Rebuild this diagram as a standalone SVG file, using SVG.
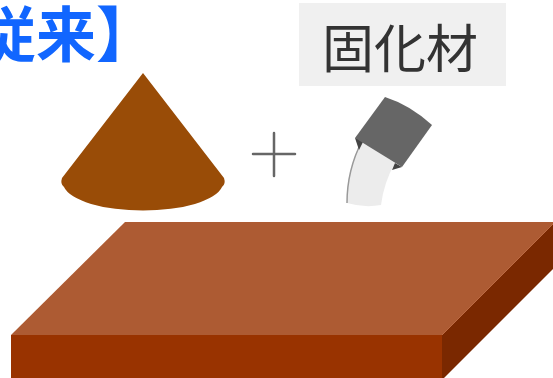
<svg xmlns="http://www.w3.org/2000/svg" width="553" height="378" viewBox="0 0 553 378">
  <style>
    .cjk { font-family: "Noto Sans CJK JP", "Noto Sans", sans-serif; }
    .title { font-size: 60px; font-weight: bold; fill: #1166FF; }
    .label { font-size: 52px; fill: #333333; }
    .plus { stroke: #666666; stroke-width: 2.5; stroke-linecap: round; fill: none; }
  </style>

  <rect width="553" height="378" fill="#FFFFFF"/>

  <!-- heading, running off the left edge -->
  <g id="heading">
    <text class="cjk title" x="-84" y="57">【従来】</text>
  </g>

  <!-- hardening agent label -->
  <g id="label-box">
    <rect x="299" y="3" width="207" height="83" fill="#F0F0F0"/>
    <text class="cjk label" x="400" y="68" text-anchor="middle">固化材</text>
  </g>

  <!-- soil cone -->
  <g id="cone">
    <path d="M143,73 L62,178 Q60,184 64,187 A80,28 0 0 0 222,187 Q226,184 224,178 Z" fill="#994C07"/>
  </g>

  <!-- plus sign -->
  <g id="plus">
    <line class="plus" x1="253" y1="154" x2="295" y2="154"/>
    <line class="plus" x1="274" y1="133" x2="274" y2="176"/>
  </g>

  <!-- tube squeezing out paste -->
  <g id="tube">
    <path d="M362,141 L395,163 Q384,182 381,205 Q364,208 347,203 Q346,170 362,141 Z" fill="#ECECEC"/>
    <path d="M362,141 Q347,170 347,203" fill="none" stroke="#999999" stroke-width="1.5"/>
    <path d="M355,138 L364,140 L359,150 Z" fill="#444444"/>
    <path d="M395,163 L402,167 L392,170 Z" fill="#444444"/>
    <path d="M385,97 Q410,105 432,125 L402,167 L355,138 Z" fill="#666666"/>
  </g>

  <!-- ground slab -->
  <g id="slab">
    <polygon points="125,222 555,222 442,335 11,335" fill="#AD5B33"/>
    <polygon points="11,335 442,335 442,380 11,380" fill="#993300"/>
    <polygon points="442,335 555,222 555,267 442,380" fill="#7A2800"/>
    <line x1="442" y1="335" x2="555" y2="222" stroke="#C06A40" stroke-width="0.8"/>
  </g>
</svg>
